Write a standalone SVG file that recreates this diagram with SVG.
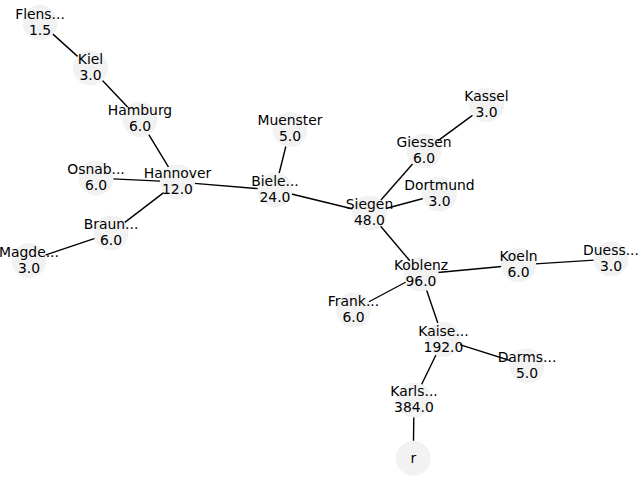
<svg xmlns="http://www.w3.org/2000/svg" width="640" height="480" viewBox="0 0 640 480">
  <style>
    .edge { stroke: #000; stroke-width: 1.4; fill: none; stroke-linecap: butt; }
    .node circle { fill: #f2f2f2; stroke: none; }
    .node text { font-family: "DejaVu Sans", "Liberation Sans", sans-serif; font-size: 13.9px; fill: #000; text-anchor: middle; }
  </style>
  <rect width="640" height="480" fill="#fff"/>
  <g id="connectors">
    <line class="edge" x1="52.63" y1="33.88" x2="77.87" y2="56.62"/>
    <line class="edge" x1="102.22" y1="80.31" x2="128.28" y2="107.69"/>
    <line class="edge" x1="148.80" y1="134.55" x2="168.70" y2="167.45"/>
    <line class="edge" x1="112.98" y1="178.83" x2="160.52" y2="181.17"/>
    <line class="edge" x1="164.01" y1="192.35" x2="124.49" y2="222.65"/>
    <line class="edge" x1="94.88" y1="238.41" x2="45.12" y2="255.09"/>
    <line class="edge" x1="194.44" y1="183.39" x2="258.06" y2="188.61"/>
    <line class="edge" x1="285.91" y1="146.00" x2="279.09" y2="173.50"/>
    <line class="edge" x1="291.52" y1="194.02" x2="352.98" y2="208.98"/>
    <line class="edge" x1="380.72" y1="200.23" x2="412.78" y2="163.77"/>
    <line class="edge" x1="437.69" y1="140.92" x2="472.81" y2="115.08"/>
    <line class="edge" x1="385.91" y1="208.55" x2="423.09" y2="198.45"/>
    <line class="edge" x1="380.47" y1="225.99" x2="410.03" y2="261.01"/>
    <line class="edge" x1="437.93" y1="272.44" x2="501.57" y2="266.56"/>
    <line class="edge" x1="535.46" y1="263.90" x2="594.04" y2="260.10"/>
    <line class="edge" x1="406.00" y1="282.00" x2="368.50" y2="302.00"/>
    <line class="edge" x1="426.52" y1="290.08" x2="437.98" y2="323.42"/>
    <line class="edge" x1="459.70" y1="344.64" x2="510.80" y2="360.86"/>
    <line class="edge" x1="436.05" y1="354.78" x2="421.45" y2="384.72"/>
    <line class="edge" x1="413.80" y1="417.00" x2="413.50" y2="441.30"/>
  </g>
  <g id="flensburg" class="node"><circle cx="40" cy="22.5" r="17.5"/><text x="40" y="18.5">Flens...<tspan x="40" dy="16">1.5</tspan></text></g>
  <g id="kiel" class="node"><circle cx="90.5" cy="68" r="17.5"/><text x="90.5" y="64">Kiel<tspan x="90.5" dy="16">3.0</tspan></text></g>
  <g id="hamburg" class="node"><circle cx="140" cy="119.5" r="17.5"/><text x="140" y="114.5">Hamburg<tspan x="140" dy="16">6.0</tspan></text></g>
  <g id="osnabrueck" class="node"><circle cx="96" cy="178" r="17.5"/><text x="96" y="174">Osnab...<tspan x="96" dy="16">6.0</tspan></text></g>
  <g id="hannover" class="node"><circle cx="177.5" cy="182" r="17.5"/><text x="177.5" y="178">Hannover<tspan x="177.5" dy="16">12.0</tspan></text></g>
  <g id="braunschweig" class="node"><circle cx="111" cy="233" r="17.5"/><text x="111" y="229">Braun...<tspan x="111" dy="16">6.0</tspan></text></g>
  <g id="magdeburg" class="node"><circle cx="29" cy="260.5" r="17.5"/><text x="29" y="256.5">Magde...<tspan x="29" dy="16">3.0</tspan></text></g>
  <g id="muenster" class="node"><circle cx="290" cy="129.5" r="17.5"/><text x="290" y="125">Muenster<tspan x="290" dy="16">5.0</tspan></text></g>
  <g id="bielefeld" class="node"><circle cx="275" cy="190" r="17.5"/><text x="275" y="186">Biele...<tspan x="275" dy="16">24.0</tspan></text></g>
  <g id="siegen" class="node"><circle cx="369.5" cy="213" r="17.5"/><text x="369.5" y="209">Siegen<tspan x="369.5" dy="16">48.0</tspan></text></g>
  <g id="kassel" class="node"><circle cx="486.5" cy="105" r="17.5"/><text x="486.5" y="101">Kassel<tspan x="486.5" dy="16">3.0</tspan></text></g>
  <g id="giessen" class="node"><circle cx="424" cy="151" r="17.5"/><text x="424" y="147">Giessen<tspan x="424" dy="16">6.0</tspan></text></g>
  <g id="dortmund" class="node"><circle cx="439.5" cy="194" r="17.5"/><text x="439.5" y="190">Dortmund<tspan x="439.5" dy="16">3.0</tspan></text></g>
  <g id="koblenz" class="node"><circle cx="421" cy="274" r="17.5"/><text x="421" y="270">Koblenz<tspan x="421" dy="16">96.0</tspan></text></g>
  <g id="koeln" class="node"><circle cx="518.5" cy="265" r="17.5"/><text x="518.5" y="261">Koeln<tspan x="518.5" dy="16">6.0</tspan></text></g>
  <g id="duesseldorf" class="node"><circle cx="611" cy="259" r="17.5"/><text x="611" y="255">Duess...<tspan x="611" dy="16">3.0</tspan></text></g>
  <g id="frankfurt" class="node"><circle cx="353.5" cy="310" r="17.5"/><text x="353.5" y="306">Frank...<tspan x="353.5" dy="16">6.0</tspan></text></g>
  <g id="kaiserslautern" class="node"><circle cx="443.5" cy="339.5" r="17.5"/><text x="443.5" y="335.5">Kaise...<tspan x="443.5" dy="16">192.0</tspan></text></g>
  <g id="darmstadt" class="node"><circle cx="527" cy="366" r="17.5"/><text x="527" y="362">Darms...<tspan x="527" dy="16">5.0</tspan></text></g>
  <g id="karlsruhe" class="node"><circle cx="414" cy="400" r="17.5"/><text x="414" y="396">Karls...<tspan x="414" dy="16">384.0</tspan></text></g>
  <g id="root" class="node"><circle cx="413.3" cy="458.3" r="17.5"/><text x="413.3" y="463">r</text></g>
</svg>
